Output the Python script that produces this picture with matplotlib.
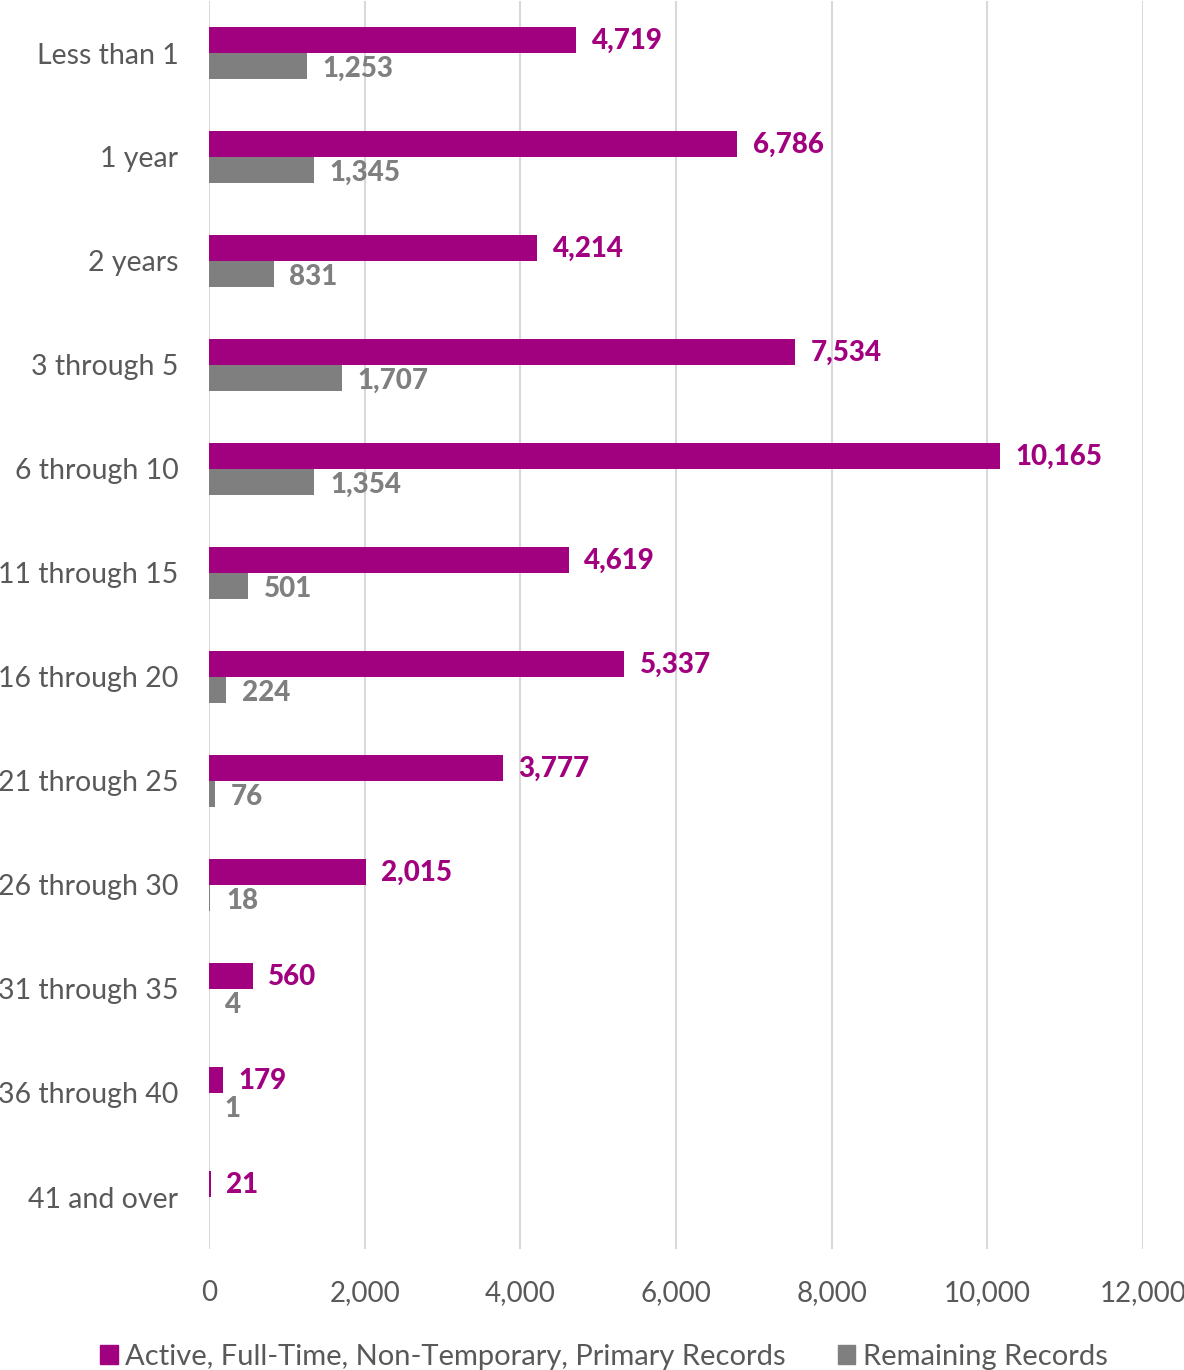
import matplotlib
matplotlib.use("Agg")
import matplotlib.pyplot as plt
from matplotlib.patches import Patch
import numpy as np

categories = ["Less than 1", "1 year", "2 years", "3 through 5", "6 through 10",
              "11 through 15", "16 through 20", "21 through 25", "26 through 30",
              "31 through 35", "36 through 40", "41 and over"]
active = [4719, 6786, 4214, 7534, 10165, 4619, 5337, 3777, 2015, 560, 179, 21]
remaining = [1253, 1345, 831, 1707, 1354, 501, 224, 76, 18, 4, 1, None]
series_names = ["Active, Full-Time, Non-Temporary, Primary Records",
                "Remaining Records"]

PURPLE = "#A1007F"
GRAY = "#7F7F7F"
TEXT = "#595959"

plt.rcParams["font.family"] = ["Lato", "DejaVu Sans"]

fig = plt.figure(figsize=(11.84, 13.7), dpi=100)
ax = fig.add_axes([209 / 1184, 1 - 1249 / 1370, 934 / 1184, 1248 / 1370])

y = np.arange(len(categories))
h = 0.25
ax.barh(y - h / 2, active, height=h, color=PURPLE, zorder=3)
rem_vals = [np.nan if v is None else v for v in remaining]
ax.barh(y + h / 2, rem_vals, height=h, color=GRAY, zorder=3)

for yi, v in zip(y, active):
    ax.text(v + 200, yi - h / 2 + 0.01, f"{v:,}", va="center", ha="left",
            fontsize=20, fontweight=900, color=PURPLE)
for yi, v in zip(y, remaining):
    if v is None:
        continue
    ax.text(v + 200, yi + h / 2 + 0.03, f"{v:,}", va="center", ha="left",
            fontsize=20, fontweight=900, color=GRAY)

ax.set_xlim(0, 12000)
ax.set_ylim(len(categories) - 0.5, -0.5)
ax.set_xticks(np.arange(0, 12001, 2000))
ax.xaxis.set_major_formatter(matplotlib.ticker.FuncFormatter(lambda v, p: f"{int(v):,}"))
ax.set_yticks(y)
ax.set_yticklabels(categories)
ax.tick_params(axis="both", length=0, labelsize=20.5, labelcolor=TEXT)
ax.tick_params(axis="x", labelsize=20, pad=22)
ax.tick_params(axis="y", pad=22)
ax.grid(axis="x", color="#D9D9D9", linewidth=1.5, zorder=0)
for s in ax.spines.values():
    s.set_visible(False)

handles = [Patch(color=PURPLE), Patch(color=GRAY)]
fig.legend(handles, series_names, loc="lower center", bbox_to_anchor=(0.51, -0.019),
           ncol=2, frameon=False, fontsize=21, labelcolor=TEXT,
           handlelength=0.6, handleheight=0.6, handletextpad=0.25, columnspacing=1.8)

fig.savefig("out.png", dpi=100)
